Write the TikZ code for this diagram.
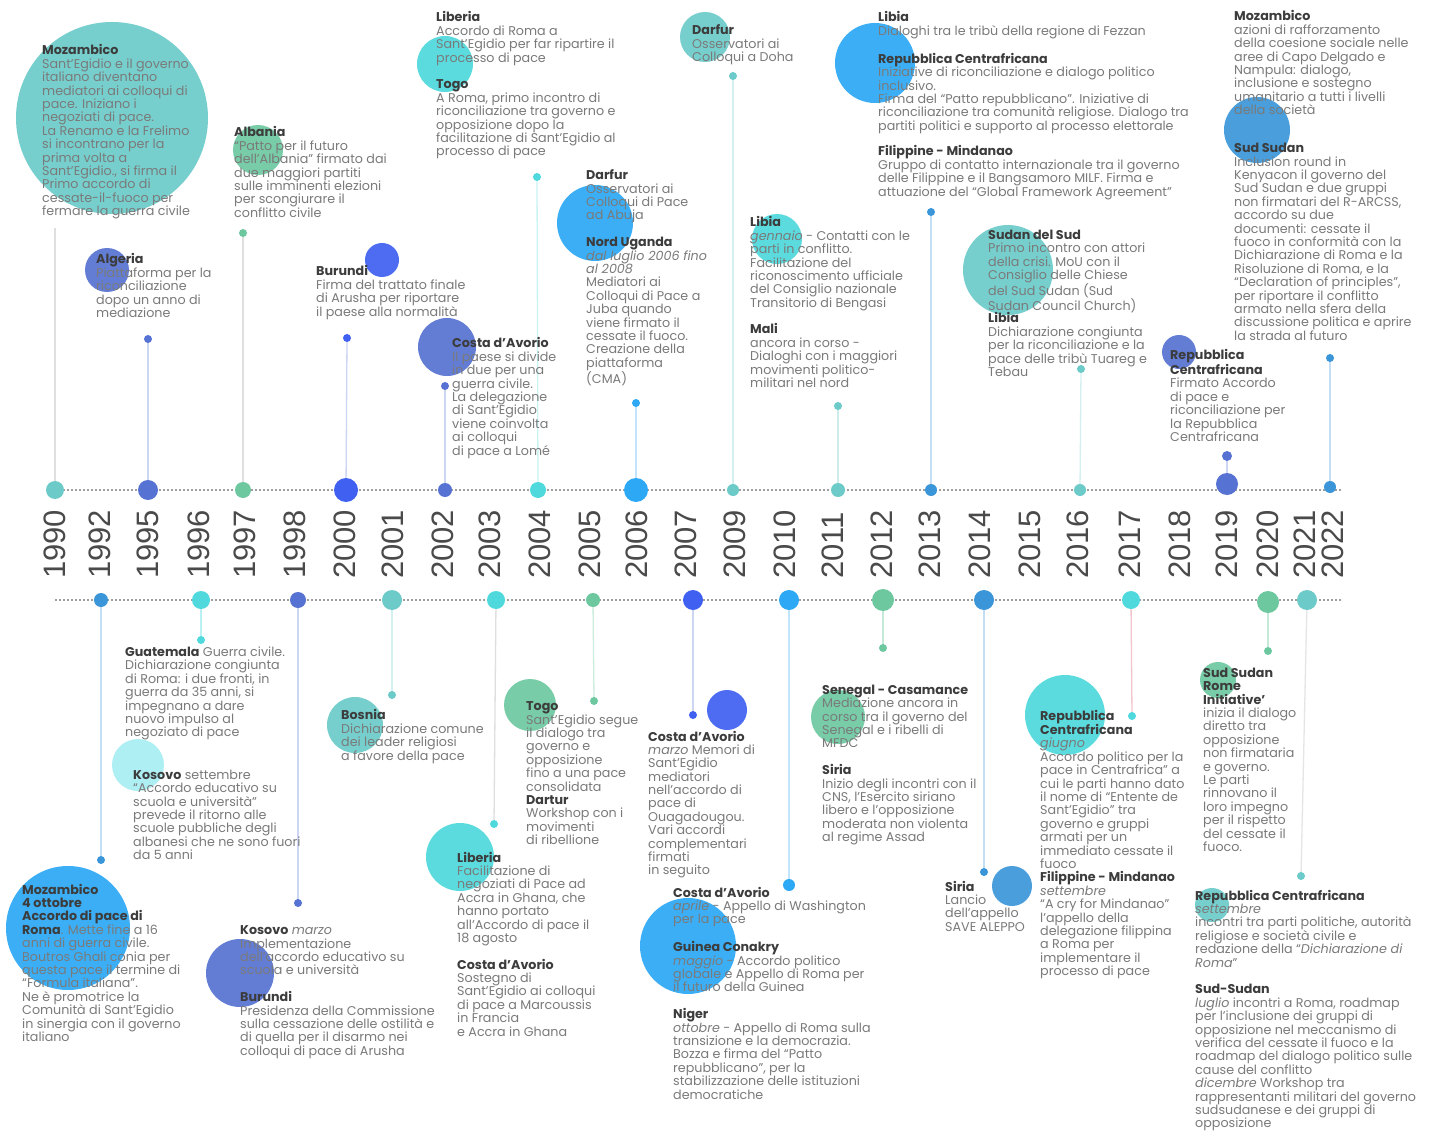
\documentclass[tikz,border=0pt]{standalone}
\usepackage{fontspec}
\setmainfont{Poppins}
\newfontfamily\yearfont{Liberation Sans}
\pgfdeclarelayer{bg}
\pgfsetlayers{bg,main}
\definecolor{cteal}{HTML}{6CCBC9}
\definecolor{cgreen}{HTML}{6DC8A0}
\definecolor{cblue}{HTML}{5672D2}
\definecolor{croyal}{HTML}{3F60F0}
\definecolor{cbright}{HTML}{2CA8F5}
\definecolor{ccyan}{HTML}{4FD9DC}
\definecolor{cmid}{HTML}{3A96D8}
\definecolor{clight}{HTML}{A8EEF2}
\definecolor{cpink}{HTML}{F2C4CF}
\definecolor{ctext}{HTML}{7A7A7A}
\definecolor{ctitle}{HTML}{3C3C3C}
\definecolor{cyear}{HTML}{4A4A4A}
\newcommand{\ttl}[1]{{\bfseries\color{ctitle}#1}}
\tikzset{
  txt/.style={anchor=north west, yshift=9.38pt, inner sep=0pt, align=left, font=\fontsize{12.7}{13.4}\selectfont, text=ctext, execute at begin node=\strut},
  yr/.style={rotate=90, anchor=west, inner sep=0pt, font=\yearfont\fontsize{31}{31}\selectfont, text=cyear},
  tdot/.style={circle, fill=#1, inner sep=0pt, draw=none},
  edot/.style={circle, fill=#1, minimum size=8pt, inner sep=0pt, draw=none},
  conn/.style={draw=#1, line width=1.3pt},
  blob/.style={fill=#1, fill opacity=0.92},
  tline/.style={draw=gray!75, line width=1.6pt, dash pattern=on 1.6pt off 2.4pt},
}
\begin{document}
\begin{tikzpicture}[x=1pt,y=-1pt]
\useasboundingbox (0,0) rectangle (1437,1131);
\begin{pgfonlayer}{bg}
\fill[white] (0,0) rectangle (1437,1131);
% decorative circles (top)
\fill[blob=cteal] (112,118) circle (96);
\fill[blob=cgreen] (258,150) circle (25);
\fill[blob=cblue] (107,270) circle (22);
\fill[blob=croyal] (382,260) circle (17);
\fill[blob=ccyan] (445,64) circle (28);
\fill[blob=cblue] (447,347) circle (29);
\fill[blob=cbright] (595,223) circle (38);
\fill[blob=cteal] (705,37) circle (25);
\fill[blob=ccyan] (777,239) circle (25);
\fill[blob=cbright] (875,63) circle (40);
\fill[blob=cteal] (1008,270) circle (45);
\fill[blob=cblue] (1179,352) circle (17);
\fill[blob=cmid] (1257,130) circle (33);
% decorative circles (bottom)
\fill[blob=clight] (138,765) circle (26);
\fill[blob=cbright] (68,928) circle (62);
\fill[blob=cblue] (240,973) circle (34);
\fill[blob=cteal] (355,725) circle (28);
\fill[blob=cgreen] (530,705) circle (26);
\fill[blob=ccyan] (460,857) circle (34);
\fill[blob=croyal] (727,710) circle (20);
\fill[blob=cbright] (688,946) circle (48);
\fill[blob=cgreen] (838,717) circle (27);
\fill[blob=cmid] (1012,886) circle (20);
\fill[blob=ccyan] (1065,715) circle (40);
\fill[blob=cgreen] (1218,680) circle (18);
\fill[blob=cteal] (1212,905) circle (17);
\end{pgfonlayer}

% timeline ends
\coordinate (topL) at (55,490);
\coordinate (topR) at (1342,490);
\coordinate (botL) at (55,600);
\coordinate (botR) at (1342,600);

% top dots
\node[tdot=cteal, minimum size=18pt] (t1990) at (55,490) {};
\node[tdot=cblue, minimum size=20pt] (t1995) at (148,490) {};
\node[tdot=cgreen, minimum size=16pt] (t1997) at (243,490) {};
\node[tdot=croyal, minimum size=24pt] (t2000) at (346,490) {};
\node[tdot=cblue, minimum size=14pt] (t2002) at (445,490) {};
\node[tdot=ccyan, minimum size=16pt] (t2004) at (538,490) {};
\node[tdot=cbright, minimum size=24pt] (t2006) at (636,490) {};
\node[tdot=cteal, minimum size=12pt] (t2009) at (733,490) {};
\node[tdot=cteal, minimum size=14pt] (t2011) at (838,490) {};
\node[tdot=cmid, minimum size=12pt] (t2013) at (931,490) {};
\node[tdot=cteal, minimum size=12pt] (t2016) at (1080,490) {};
\node[tdot=cblue, minimum size=22pt] (t2019) at (1227,484) {};
\node[tdot=cmid, minimum size=12pt] (t2022) at (1330,487) {};
% top end dots
\coordinate (e1990) at (55,228);
\node[edot=cblue] (e1995) at (148,339) {};
\node[edot=cgreen] (e1997) at (243,233) {};
\node[edot=croyal] (e2000) at (347,338) {};
\node[edot=cblue] (e2002) at (445,386) {};
\node[edot=ccyan] (e2004) at (537,177) {};
\node[edot=cbright] (e2006) at (636,403) {};
\node[edot=cteal] (e2009) at (733,76) {};
\node[edot=cteal] (e2011) at (838,406) {};
\node[edot=cmid] (e2013) at (931,212) {};
\node[edot=cteal] (e2016) at (1081,369) {};
\node[edot=cblue, minimum size=10pt] (e2019) at (1227,456) {};
\node[edot=cmid] (e2022) at (1330,358) {};

% bottom dots
\node[tdot=cmid, minimum size=14pt] (b1992) at (101,600) {};
\node[tdot=ccyan, minimum size=18pt] (b1996) at (201,600) {};
\node[tdot=cblue, minimum size=16pt] (b1998) at (298,600) {};
\node[tdot=cteal, minimum size=20pt] (b2001) at (392,600) {};
\node[tdot=ccyan, minimum size=18pt] (b2003) at (496,600) {};
\node[tdot=cgreen, minimum size=14pt] (b2005) at (593,600) {};
\node[tdot=croyal, minimum size=20pt] (b2007) at (693,600) {};
\node[tdot=cbright, minimum size=20pt] (b2010) at (789,600) {};
\node[tdot=cgreen, minimum size=22pt] (b2012) at (883,600) {};
\node[tdot=cmid, minimum size=20pt] (b2014) at (984,600) {};
\node[tdot=ccyan, minimum size=18pt] (b2017) at (1131,600) {};
\node[tdot=cgreen, minimum size=22pt] (b2020) at (1268,602) {};
\node[tdot=cteal, minimum size=20pt] (b2021) at (1307,600) {};
% bottom end dots
\node[edot=cmid] (f1992) at (101,860) {};
\node[edot=ccyan] (f1996) at (201,640) {};
\node[edot=cblue] (f1998) at (298,903) {};
\node[edot=cteal] (f2001) at (392,695) {};
\node[edot=ccyan] (f2003) at (494,824) {};
\node[edot=cgreen] (f2005) at (594,701) {};
\node[edot=croyal] (f2007) at (693,715) {};
\node[edot=cbright, minimum size=12pt] (f2010) at (789,885) {};
\node[edot=cgreen] (f2012) at (883,648) {};
\node[edot=cmid] (f2014) at (984,872) {};
\node[edot=ccyan] (f2017) at (1132,716) {};
\node[edot=cgreen] (f2020) at (1268,651) {};
\node[edot=cteal] (f2021) at (1301,876) {};

\begin{pgfonlayer}{bg}
\draw[tline] (topL) -- (topR);
\draw[tline] (botL) -- (botR);
\draw[conn=gray!25] (t1990.center) -- (e1990);
\draw[conn=cblue!30] (t1995.center) -- (e1995.center);
\draw[conn=gray!25] (t1997.center) -- (e1997.center);
\draw[conn=cblue!30] (t2000.center) -- (e2000.center);
\draw[conn=cblue!30] (t2002.center) -- (e2002.center);
\draw[conn=ccyan!30] (t2004.center) -- (e2004.center);
\draw[conn=cbright!30] (t2006.center) -- (e2006.center);
\draw[conn=cteal!30] (t2009.center) -- (e2009.center);
\draw[conn=cteal!35] (t2011.center) -- (e2011.center);
\draw[conn=cmid!30] (t2013.center) -- (e2013.center);
\draw[conn=cteal!30] (t2016.center) -- (e2016.center);
\draw[conn=cblue!30] (t2019.center) -- (e2019.center);
\draw[conn=cmid!30] (t2022.center) -- (e2022.center);
\draw[conn=cmid!30] (b1992.center) -- (f1992.center);
\draw[conn=ccyan!40] (b1996.center) -- (f1996.center);
\draw[conn=cblue!30] (b1998.center) -- (f1998.center);
\draw[conn=cteal!30] (b2001.center) -- (f2001.center);
\draw[conn=gray!25] (b2003.center) -- (f2003.center);
\draw[conn=cgreen!35] (b2005.center) -- (f2005.center);
\draw[conn=cblue!30] (b2007.center) -- (f2007.center);
\draw[conn=cbright!30] (b2010.center) -- (f2010.center);
\draw[conn=cgreen!40] (b2012.center) -- (f2012.center);
\draw[conn=cmid!30] (b2014.center) -- (f2014.center);
\draw[conn=cpink] (b2017.center) -- (f2017.center);
\draw[conn=cgreen!40] (b2020.center) -- (f2020.center);
\draw[conn=gray!20] (b2021.center) -- (f2021.center);
\end{pgfonlayer}

% years
\node[yr] (y1990) at (55,579) {1990};
\node[yr] (y1992) at (100,579) {1992};
\node[yr] (y1995) at (148,579) {1995};
\node[yr] (y1996) at (199,579) {1996};
\node[yr] (y1997) at (245,579) {1997};
\node[yr] (y1998) at (295,579) {1998};
\node[yr] (y2000) at (345,579) {2000};
\node[yr] (y2001) at (393,579) {2001};
\node[yr] (y2002) at (443,579) {2002};
\node[yr] (y2003) at (490,579) {2003};
\node[yr] (y2004) at (540,579) {2004};
\node[yr] (y2005) at (590,579) {2005};
\node[yr] (y2006) at (637,579) {2006};
\node[yr] (y2007) at (686,579) {2007};
\node[yr] (y2009) at (735,579) {2009};
\node[yr] (y2010) at (785,579) {2010};
\node[yr] (y2011) at (833,579) {2011};
\node[yr] (y2012) at (882,579) {2012};
\node[yr] (y2013) at (930,579) {2013};
\node[yr] (y2014) at (980,579) {2014};
\node[yr] (y2015) at (1030,579) {2015};
\node[yr] (y2016) at (1078,579) {2016};
\node[yr] (y2017) at (1130,579) {2017};
\node[yr] (y2018) at (1180,579) {2018};
\node[yr] (y2019) at (1227,579) {2019};
\node[yr] (y2020) at (1268,579) {2020};
\node[yr] (y2021) at (1305,579) {2021};
\node[yr] (y2022) at (1333,579) {2022};

% ---------- top texts ----------
\node[txt] (m1990) at (42,54) {\ttl{Mozambico}\\Sant’Egidio e il governo\\italiano diventano\\mediatori ai colloqui di\\pace. Iniziano i\\negoziati di pace.\\La Renamo e la Frelimo\\si incontrano per la\\prima volta a\\Sant’Egidio., si firma il\\Primo accordo di\\cessate-il-fuoco per\\fermare la guerra civile};
\node[txt] (m1997) at (234,136) {\ttl{Albania}\\“Patto per il futuro\\dell’Albania” firmato dai\\due maggiori partiti\\sulle imminenti elezioni\\per scongiurare il\\conflitto civile};
\node[txt] (m1995) at (96,263) {\ttl{Algeria}\\Piattaforma per la\\riconciliazione\\dopo un anno di\\mediazione};
\node[txt] (m2000) at (316,275) {\ttl{Burundi}\\Firma del trattato finale\\di Arusha per riportare\\il paese alla normalità};
\node[txt] (m2004) at (436,21) {\ttl{Liberia}\\Accordo di Roma a\\Sant’Egidio per far ripartire il\\processo di pace\\[13.4pt]\ttl{Togo}\\A Roma, primo incontro di\\riconciliazione tra governo e\\opposizione dopo la\\facilitazione di Sant’Egidio al\\processo di pace};
\node[txt] (m2002) at (452,347) {\ttl{Costa d’Avorio}\\Il paese si divide\\in due per una\\guerra civile.\\La delegazione\\di Sant’Egidio\\viene coinvolta\\ai colloqui\\di pace a Lomé};
\node[txt] (m2006) at (586,179) {\ttl{Darfur}\\Osservatori ai\\Colloqui di Pace\\ad Abuja\\[13.4pt]\ttl{Nord Uganda}\\\textit{dal luglio 2006 fino}\\\textit{al 2008}\\Mediatori ai\\Colloqui di Pace a\\Juba quando\\viene firmato il\\cessate il fuoco.\\Creazione della\\piattaforma\\(CMA)};
\node[txt] (m2009) at (692,34) {\ttl{Darfur}\\Osservatori ai\\Colloqui a Doha};
\node[txt] (m2011) at (750,226) {\ttl{Libia}\\\textit{gennaio} - Contatti con le\\parti in conflitto.\\Facilitazione del\\riconoscimento ufficiale\\del Consiglio nazionale\\Transitorio di Bengasi\\[12pt]\ttl{Mali}\\ancora in corso -\\Dialoghi con i maggiori\\movimenti politico-\\militari nel nord};
\node[txt] (m2013) at (878,21) {\ttl{Libia}\\Dialoghi tra le tribù della regione di Fezzan\\[13.4pt]\ttl{Repubblica Centrafricana}\\Iniziative di riconciliazione e dialogo politico\\inclusivo.\\Firma del “Patto repubblicano”. Iniziative di\\riconciliazione tra comunità religiose. Dialogo tra\\partiti politici e supporto al  processo elettorale\\[11pt]\ttl{Filippine - Mindanao}\\Gruppo di contatto internazionale tra il governo\\delle Filippine e il Bangsamoro MILF. Firma e\\attuazione del “Global Framework Agreement”};
\node[txt] (m2016) at (988,239) {\ttl{Sudan del Sud}\\Primo incontro con attori\\della crisi. MoU con il\\Consiglio delle Chiese\\del Sud Sudan (Sud\\Sudan Council Church)\\[-1.5pt]\ttl{Libia}\\Dichiarazione congiunta\\per la riconciliazione e la\\pace delle tribù Tuareg e\\Tebau};
\node[txt] (m2022) at (1234,20) {\ttl{Mozambico}\\azioni di rafforzamento\\della coesione sociale nelle\\aree di Capo Delgado e\\Nampula: dialogo,\\inclusione e sostegno\\umanitario a tutti i livelli\\della società\\[24.5pt]\ttl{Sud Sudan}\\Inclusion round in\\Kenyacon il governo del\\Sud Sudan e due gruppi\\non firmatari del R-ARCSS,\\accordo su due\\documenti:  cessate il\\fuoco in conformità con la\\Dichiarazione di Roma e la\\Risoluzione di Roma, e la\\“Declaration of principles”,\\per riportare il conflitto\\armato nella sfera della\\discussione politica e aprire\\la strada al futuro};
\node[txt] (m2019) at (1170,359) {\ttl{Repubblica}\\\ttl{Centrafricana}\\Firmato Accordo\\di pace e\\riconciliazione per\\la Repubblica\\Centrafricana};

% ---------- bottom texts ----------
\node[txt] (n1996a) at (125,656) {\ttl{Guatemala} Guerra civile.\\Dichiarazione congiunta\\di Roma: i due fronti, in\\guerra da 35 anni, si\\impegnano a dare\\nuovo impulso al\\negoziato di pace};
\node[txt] (n1996b) at (133,779) {\ttl{Kosovo} settembre\\“Accordo educativo su\\scuola e università”\\prevede il ritorno alle\\scuole pubbliche degli\\albanesi che ne sono fuori\\da 5 anni};
\node[txt] (n1992) at (22,893) {\ttl{Mozambico}\\\ttl{4 ottobre}\\\ttl{Accordo di pace di}\\\ttl{Roma}. Mette fine a 16\\anni di guerra civile.\\Boutros Ghali conia per\\questa pace il termine di\\“Formula italiana”.\\Ne è promotrice la\\Comunità di Sant’Egidio\\in sinergia con il governo\\italiano};
\node[txt] (n1998) at (240,935) {\ttl{Kosovo} \textit{marzo}\\Implementazione\\dell’accordo educativo su\\scuola e università\\[13.4pt]\ttl{Burundi}\\Presidenza della Commissione\\sulla cessazione delle ostilità e\\di quella per il disarmo nei\\colloqui di pace di Arusha};
\node[txt] (n2001) at (341,719) {\ttl{Bosnia}\\Dichiarazione comune\\dei leader religiosi\\a favore della pace};
\node[txt] (n2005) at (526,711) {\ttl{Togo}\\Sant’Egidio segue\\il dialogo tra\\governo e\\opposizione\\fino a una pace\\consolidata\\\ttl{Dartur}\\Workshop con i\\movimenti\\di ribellione};
\node[txt] (n2007) at (648,740) {\ttl{Costa d’Avorio}\\\textit{marzo} Memori di\\Sant’Egidio\\mediatori\\nell’accordo di\\pace di\\Ouagadougou.\\Vari accordi\\complementari\\firmati\\in seguito};
\node[txt] (n2003) at (457,861) {\ttl{Liberia}\\Facilitazione di\\negoziati di Pace ad\\Accra in Ghana, che\\hanno portato\\all’Accordo di pace il\\18 agosto\\[12pt]\ttl{Costa d’Avorio}\\Sostegno di\\Sant’Egidio ai colloqui\\di pace a Marcoussis\\in Francia\\e Accra in Ghana};
\node[txt] (n2010) at (673,896) {\ttl{Costa d’Avorio}\\\textit{aprile} - Appello di Washington\\per la pace\\[13.4pt]\ttl{Guinea Conakry}\\\textit{maggio} - Accordo politico\\globale e Appello di Roma per\\il futuro della Guinea\\[13.4pt]\ttl{Niger}\\\textit{ottobre} - Appello di Roma sulla\\transizione e la democrazia.\\Bozza e firma del “Patto\\repubblicano”, per la\\stabilizzazione delle istituzioni\\democratiche};
\node[txt] (n2012) at (822,694) {\ttl{Senegal - Casamance}\\Mediazione ancora in\\corso tra il governo del\\Senegal e i ribelli di\\MFDC\\[13.4pt]\ttl{Siria}\\Inizio degli incontri con il\\CNS, l’Esercito siriano\\libero e l’opposizione\\moderata non violenta\\al regime Assad};
\node[txt] (n2014) at (945,890) {\ttl{Siria}\\Lancio\\dell’appello\\SAVE ALEPPO};
\node[txt] (n2017) at (1040,719) {\ttl{Repubblica}\\\ttl{Centrafricana}\\\textit{giugno}\\Accordo politico per la\\pace in Centrafrica” a\\cui le parti hanno dato\\il nome di “Entente de\\Sant’Egidio” tra\\governo e gruppi\\armati per un\\immediato cessate il\\fuoco\\\ttl{Filippine - Mindanao}\\\textit{settembre}\\“A cry for Mindanao”\\l’appello della\\delegazione filippina\\a Roma per\\implementare il\\processo di pace};
\node[txt] (n2020) at (1203,677) {\ttl{Sud Sudan}\\\ttl{Rome}\\\ttl{Initiative’}\\inizia il dialogo\\diretto tra\\opposizione\\non firmataria\\e governo.\\Le parti\\rinnovano il\\loro impegno\\per il rispetto\\del cessate il\\fuoco.};
\node[txt] (n2021) at (1195,899) {\ttl{Repubblica Centrafricana}\\\textit{settembre}\\incontri tra parti politiche, autorità\\religiose e società civile e\\redazione della “\textit{Dichiarazione di}\\\textit{Roma}”\\[13.4pt]\ttl{Sud-Sudan}\\\textit{luglio} incontri a Roma, roadmap\\per l’inclusione dei gruppi di\\opposizione nel meccanismo di\\verifica del cessate il fuoco e la\\roadmap del dialogo politico sulle\\cause del conflitto\\\textit{dicembre} Workshop  tra\\rappresentanti militari del governo\\sudsudanese e dei gruppi di\\opposizione};
\end{tikzpicture}
\end{document}
